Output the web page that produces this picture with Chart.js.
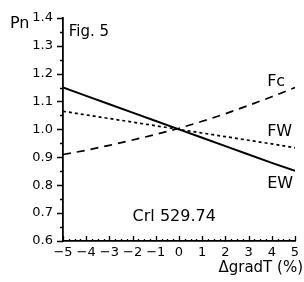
<!DOCTYPE html>
<html>
<head>
<meta charset="utf-8">
<script src="https://cdn.jsdelivr.net/npm/chart.js@4/dist/chart.umd.min.js"></script>
<style>
  html, body { margin: 0; padding: 0; background: #fff; }
  #wrap { width: 304px; height: 282px; }
</style>
</head>
<body>
<div id="wrap"><canvas id="figChart"></canvas></div>
<script>
// values
const gradT = [-5, -4, -3, -2, -1, 0, 1, 2, 3, 4, 5];
const fcValues = [0.910, 0.925, 0.943, 0.962, 0.982, 1.004, 1.029, 1.056, 1.086, 1.117, 1.150];
const fwValues = [1.065, 1.052, 1.039, 1.026, 1.013, 1.000, 0.987, 0.974, 0.961, 0.948, 0.934];
const ewValues = [1.150, 1.120, 1.090, 1.060, 1.030, 1.000, 0.970, 0.940, 0.910, 0.880, 0.852];

const font = 'DejaVu Sans, sans-serif';

function pts(ys) {
    return gradT.map((x, i) => ({ x: x, y: ys[i] }));
}

// text placed in data coordinates
const notes = [
    { text: 'Fig. 5', x: -4.75, y: 1.35, size: 15 },
    { text: 'Fc', x: 3.8, y: 1.17, size: 16 },
    { text: 'FW', x: 3.8, y: 0.99, size: 16 },
    { text: 'EW', x: 3.8, y: 0.805, size: 16 },
    { text: 'Crl 529.74', x: -2.0, y: 0.685, size: 16 }
];

const axisDecor = {
    id: 'axisDecor',
    afterDraw(chart) {
        const ctx = chart.ctx;
        const xs = chart.scales.x, ys = chart.scales.y;
        const area = chart.chartArea;
        ctx.save();
        ctx.strokeStyle = '#000';
        ctx.lineWidth = 1.3;
        ctx.beginPath();
        // y ticks pointing out
        for (let v = 0.6; v <= 1.4001; v += 0.05) {
            const py = Math.round(ys.getPixelForValue(v)) + 0.5;
            const major = Math.abs(v * 10 - Math.round(v * 10)) < 0.01;
            ctx.moveTo(area.left, py);
            ctx.lineTo(area.left - (major ? 6 : 3), py);
        }
        // x ticks pointing up
        for (let v = -5; v <= 5.001; v += 0.25) {
            const px = Math.round(xs.getPixelForValue(v)) + 0.5;
            const major = Math.abs(v - Math.round(v)) < 0.01;
            ctx.moveTo(px, area.bottom);
            ctx.lineTo(px, area.bottom - (major ? 5 : 2));
        }
        ctx.stroke();

        ctx.fillStyle = '#000';
        ctx.textBaseline = 'middle';
        ctx.textAlign = 'left';
        notes.forEach(n => {
            ctx.font = n.size + 'px ' + font;
            ctx.fillText(n.text, xs.getPixelForValue(n.x), ys.getPixelForValue(n.y));
        });
        ctx.font = '16px ' + font;
        ctx.fillText('Pn', 10, 24);
        ctx.font = '15px ' + font;
        ctx.textAlign = 'right';
        ctx.fillText('\u0394gradT (%)', 303, 268);
        ctx.restore();
    }
};

const data = {
    datasets: [
        { label: 'Fc', data: pts(fcValues), borderColor: '#000', borderWidth: 1.7, borderDash: [8, 6] },
        { label: 'FW', data: pts(fwValues), borderColor: '#000', borderWidth: 1.7, borderDash: [3, 3] },
        { label: 'EW', data: pts(ewValues), borderColor: '#000', borderWidth: 2 }
    ]
};

const options = {
    responsive: false,
    animation: false,
    layout: { padding: { top: 12, right: 9, left: 0, bottom: 0 } },
    elements: { point: { radius: 0 }, line: { tension: 0, fill: false } },
    plugins: { legend: { display: false }, tooltip: { enabled: false } },
    scales: {
        x: {
            type: 'linear', min: -5, max: 5,
            grid: { display: false, drawTicks: false },
            border: { display: true, color: '#000', width: 1.8 },
            ticks: {
                stepSize: 1, padding: 4, color: '#000',
                autoSkip: false, maxRotation: 0, minRotation: 0,
                font: { family: font, size: 13 },
                callback: v => v < 0 ? '\u2212' + (-v) : String(v)
            },
            afterFit: s => { s.height = 41; }
        },
        y: {
            min: 0.6, max: 1.4,
            grid: { display: false, drawTicks: false },
            border: { display: true, color: '#000', width: 1.8 },
            ticks: {
                stepSize: 0.1, padding: 10, color: '#000',
                font: { family: font, size: 13 },
                callback: v => v.toFixed(1)
            },
            afterFit: s => { s.width = 63; }
        }
    }
};

const canvas = document.getElementById('figChart');
canvas.width = 304;
canvas.height = 282;
new Chart(canvas.getContext('2d'), {
    type: 'line',
    data: data,
    options: options,
    plugins: [axisDecor]
});
</script>
</body>
</html>
